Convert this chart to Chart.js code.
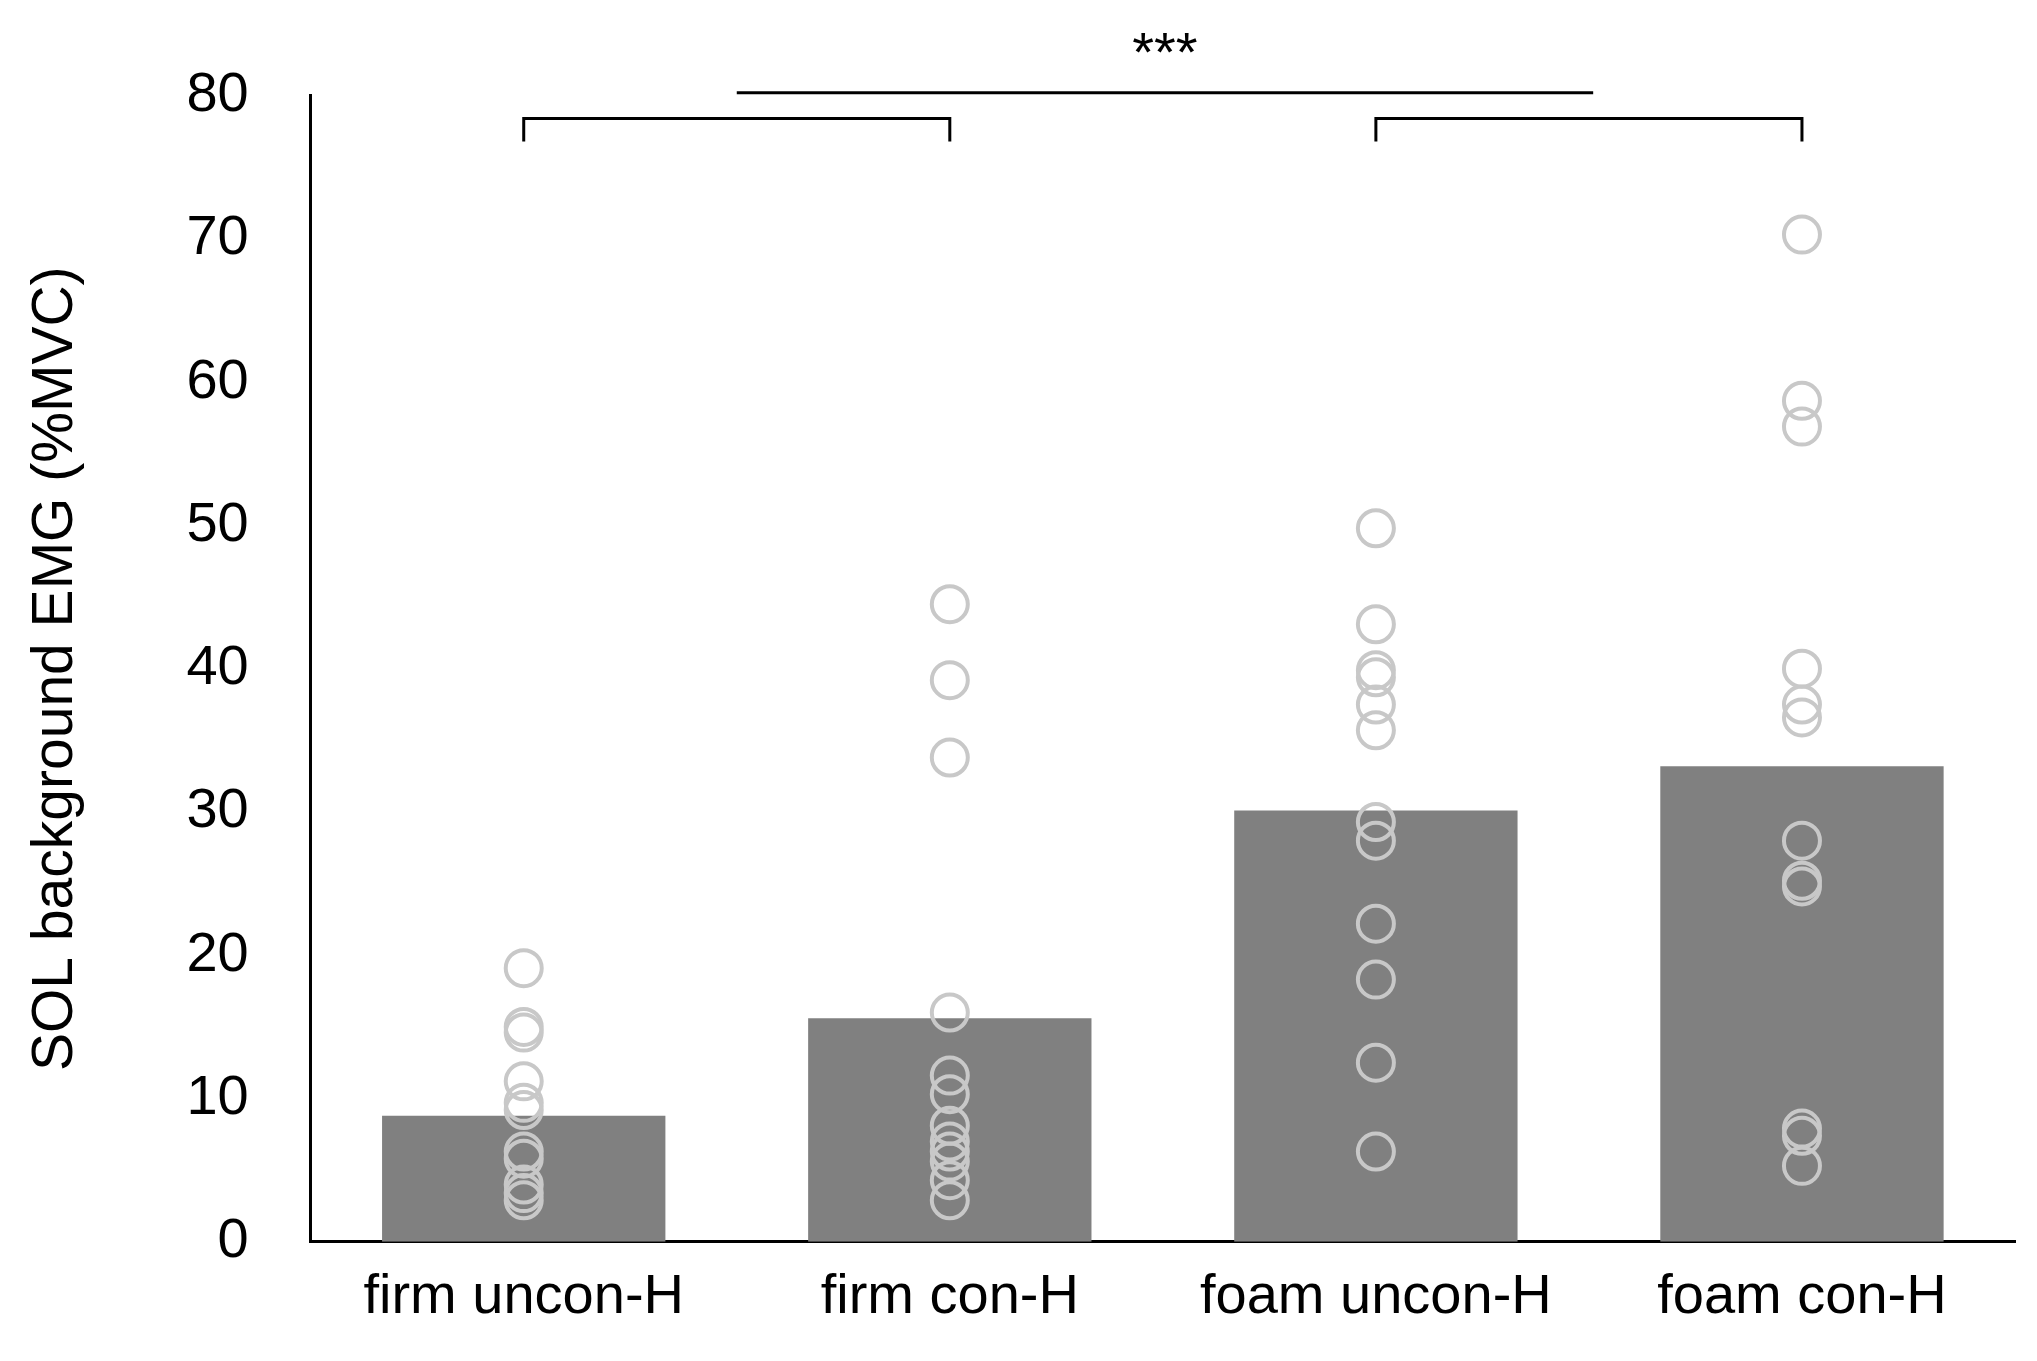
<!DOCTYPE html>
<html><head><meta charset="utf-8">
<script src="https://cdn.jsdelivr.net/npm/chart.js@4"></script>
<style>html,body{margin:0;padding:0;background:#fff}#w{width:2037px;height:1361px}</style>
</head><body><div id="w"><canvas id="c"></canvas></div>
<script>
const categories = ['firm uncon-H','firm con-H','foam uncon-H','foam con-H'];
const barMeans = [8.8, 15.6, 30.1, 33.2];
const firmUncon = [19.1,15.0,14.6,11.2,9.7,9.2,6.3,5.8,4.0,3.4,2.9];
const firmCon = [44.5,39.2,33.8,16.0,11.6,10.3,8.1,7.0,6.3,5.6,4.3,2.9];
const foamUncon = [49.8,43.1,39.9,39.4,37.5,35.7,29.3,28.0,22.2,18.3,12.5,6.3];
const foamCon = [70.3,58.7,56.9,40.0,37.5,36.6,28.0,25.2,24.8,7.9,7.4,5.3];
const yTicks = [0,10,20,30,40,50,60,70,80];
const individual = [firmUncon, firmCon, foamUncon, foamCon];
const points = [];
individual.forEach((arr,i)=>arr.forEach(v=>points.push({x:categories[i],y:v})));

const brackets = {
  id:'brackets',
  afterDraw(chart){
    const {ctx, scales:{x,y}} = chart;
    ctx.save();
    ctx.strokeStyle='#000'; ctx.lineWidth=3;
    const br=(a,b)=>{
      const x1=x.getPixelForValue(a), x2=x.getPixelForValue(b);
      const yt=y.getPixelForValue(78.4), yb=y.getPixelForValue(76.8);
      ctx.beginPath(); ctx.moveTo(x1,yb); ctx.lineTo(x1,yt); ctx.lineTo(x2,yt); ctx.lineTo(x2,yb); ctx.stroke();
    };
    br(0,1); br(2,3);
    const yl=y.getPixelForValue(80.2);
    ctx.beginPath(); ctx.moveTo(x.getPixelForValue(0.5),yl); ctx.lineTo(x.getPixelForValue(2.51),yl); ctx.stroke();
    ctx.fillStyle='#000'; ctx.font='56px "Liberation Sans", Arial'; ctx.textAlign='center'; ctx.textBaseline='middle';
    ctx.fillText('***', (x.getPixelForValue(0.5)+x.getPixelForValue(2.51))/2, y.getPixelForValue(83.5)+10);
    ctx.restore();
  }
};

new Chart(document.getElementById('c'),{
  data:{labels:categories,datasets:[
    {type:'line',data:points,showLine:false,pointRadius:18,pointHoverRadius:18,pointBackgroundColor:'rgba(0,0,0,0)',pointBorderColor:'#c8c8c8',pointBorderWidth:4,order:0},
    {type:'bar',data:barMeans,backgroundColor:'#808080',categoryPercentage:1,barPercentage:0.665,order:1}
  ]},
  options:{responsive:true,maintainAspectRatio:false,animation:false,
    layout:{padding:{top:88,right:12,left:18,bottom:8}},
    plugins:{legend:{display:false},tooltip:{enabled:false}},
    scales:{
      x:{grid:{display:false,drawTicks:false},border:{color:'#000',width:3},
         ticks:{color:'#000',font:{size:56,family:'"Liberation Sans", Arial'},padding:22}},
      y:{min:0,max:80,afterBuildTicks(s){s.ticks=yTicks.map(v=>({value:v}));},
         grid:{display:false,drawTicks:false},border:{color:'#000',width:3},
         ticks:{color:'#000',font:{size:56,family:'"Liberation Sans", Arial'},padding:62},
         title:{display:true,text:'SOL background EMG (%MVC)',color:'#000',font:{size:57,family:'"Liberation Sans", Arial'},padding:{bottom:34}}}
    }
  },
  plugins:[brackets]
});
</script></body></html>
